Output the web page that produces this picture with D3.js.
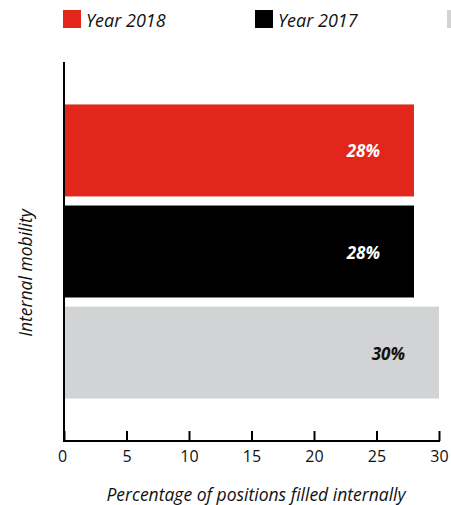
<!DOCTYPE html>
<html>
<head>
<meta charset="utf-8">
<script src="https://cdn.jsdelivr.net/npm/d3@7"></script>
<style>
  html, body { margin: 0; padding: 0; background: #fff; }
  svg { display: block; font-family: "Open Sans", "Noto Sans", sans-serif; }
</style>
</head>
<body>
<svg id="chart" width="451" height="505"></svg>
<script>
// Series shown as horizontal bars, top to bottom
const seriesNames = ["Year 2018", "Year 2017", "Year 2016"];
const seriesValues = [28, 28, 30];
const seriesColors = ["#e2261c", "#000000", "#d2d3d5"];
const labelColors = ["#ffffff", "#ffffff", "#111111"];
const xTicks = [0, 5, 10, 15, 20, 25, 30];

const W = 451;
const svg = d3.select("#chart");

const plot = { left: 64, right: 439, top: 62, bottom: 441 };

const x = d3.scaleLinear().domain([0, 30]).range([plot.left, plot.right]);
const y = d3.scaleBand()
  .domain(seriesNames)
  .range([plot.top, plot.bottom])
  .paddingInner(0.09)
  .paddingOuter(0.42);

// Bars
svg.append("g").selectAll("rect")
  .data(seriesNames)
  .join("rect")
  .attr("x", x(0) - 1)
  .attr("y", d => y(d))
  .attr("width", (d, i) => x(seriesValues[i]) - x(0) + 1)
  .attr("height", y.bandwidth())
  .attr("fill", (d, i) => seriesColors[i]);

// Value labels inside bar ends
svg.append("g").selectAll("text")
  .data(seriesNames)
  .join("text")
  .attr("x", (d, i) => x(seriesValues[i]) - 34)
  .attr("y", d => y(d) + y.bandwidth() / 2 + 7)
  .attr("text-anchor", "end")
  .attr("font-size", 17)
  .attr("font-weight", 700)
  .attr("font-style", "italic")
  .attr("fill", (d, i) => labelColors[i])
  .text((d, i) => seriesValues[i] + "%");

// X axis with inward ticks
const xAxis = d3.axisBottom(x)
  .tickValues(xTicks)
  .tickSize(-10)
  .tickPadding(10)
  .tickFormat(d3.format("d"));

const gx = svg.append("g")
  .attr("transform", `translate(0,${plot.bottom})`)
  .call(xAxis);
gx.select(".domain").attr("stroke", "#000").attr("stroke-width", 2)
  .attr("d", `M${plot.left - 1},0H${plot.right + 1}`);
gx.selectAll(".tick line").attr("stroke", "#000").attr("stroke-width", 2);
gx.selectAll(".tick text")
  .attr("font-size", 16)
  .attr("fill", "#111")
  .attr("dx", d => d === 0 ? -2 : 0)
  .attr("font-family", "'Open Sans', 'Noto Sans', sans-serif");

// Y axis line
svg.append("line")
  .attr("x1", plot.left).attr("x2", plot.left)
  .attr("y1", plot.top).attr("y2", plot.bottom + 1)
  .attr("stroke", "#000").attr("stroke-width", 2);

// Axis titles
svg.append("text")
  .attr("x", 256)
  .attr("y", 501)
  .attr("text-anchor", "middle")
  .attr("font-size", 17.5)
  .attr("font-style", "italic")
  .attr("fill", "#111")
  .text("Percentage of positions filled internally");

svg.append("text")
  .attr("transform", "translate(32,273) rotate(-90)")
  .attr("text-anchor", "middle")
  .attr("font-size", 17.5)
  .attr("font-style", "italic")
  .attr("fill", "#111")
  .text("Internal mobility");

// Legend: swatch + label; labels that would run past the edge are dropped
const legend = svg.append("g").selectAll("g")
  .data(seriesNames)
  .join("g")
  .attr("transform", (d, i) => `translate(${63 + i * 192},10)`);
legend.append("rect")
  .attr("width", 18).attr("height", 18)
  .attr("fill", (d, i) => seriesColors[i]);
legend.append("text")
  .attr("x", 23)
  .attr("y", 16.7)
  .attr("font-size", 18)
  .attr("font-style", "italic")
  .attr("fill", "#111")
  .text(d => d)
  .each(function (d, i) {
    const left = 63 + i * 192 + 23;
    if (left + this.getComputedTextLength() > W) d3.select(this).remove();
  });
</script>
</body>
</html>
